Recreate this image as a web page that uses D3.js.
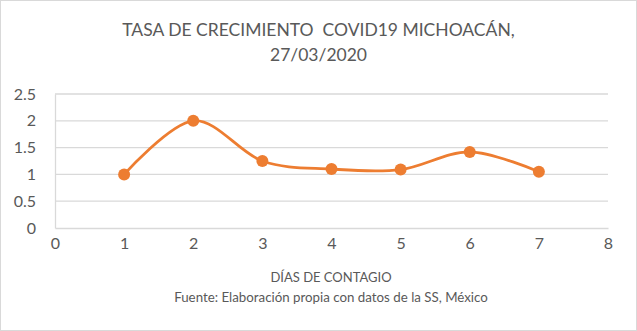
<!DOCTYPE html>
<html>
<head>
<meta charset="utf-8">
<script src="https://cdn.jsdelivr.net/npm/d3@7"></script>
<style>
  html, body { margin: 0; padding: 0; background: #fff; }
  svg { display: block; }
  text { font-family: Lato, "Open Sans", "Liberation Sans", sans-serif; fill: #595959; white-space: pre; }
</style>
</head>
<body>
<svg id="chart" width="637" height="331"></svg>
<script>
// Growth rate by day of contagion
const days = [1, 2, 3, 4, 5, 6, 7];
const rates = [1, 2, 1.25, 1.1, 1.09, 1.42, 1.05];
const xTicks = [0, 1, 2, 3, 4, 5, 6, 7, 8];
const yTicks = [0, 0.5, 1, 1.5, 2, 2.5];
const titleLines = ["TASA DE CRECIMIENTO  COVID19 MICHOACÁN,", "27/03/2020"];
const xTitle = "DÍAS DE CONTAGIO";
const sourceNote = "Fuente: Elaboración propia con datos de la SS, México";

const W = 637, H = 331;
const svg = d3.select("#chart");

// chart frame
svg.append("rect")
  .attr("x", 0.5).attr("y", 0.5)
  .attr("width", W - 1).attr("height", H - 1)
  .attr("fill", "#fff").attr("stroke", "#d9d9d9");

const x = d3.scaleLinear().domain([0, 8]).range([55, 608]);
const y = d3.scaleLinear().domain([0, 2.5]).range([228, 94]);

// horizontal gridlines
svg.append("g")
  .selectAll("line")
  .data(yTicks.filter(d => d > 0))
  .join("line")
  .attr("x1", x(0)).attr("x2", x(8))
  .attr("y1", d => y(d)).attr("y2", d => y(d))
  .attr("stroke", "#d9d9d9").attr("stroke-width", 1.3);

// y axis
const yAxis = svg.append("g")
  .attr("transform", `translate(${x(0)},0)`)
  .call(d3.axisLeft(y).tickValues(yTicks).tickFormat(d3.format("")).tickSize(0).tickPadding(19));
yAxis.select(".domain").attr("stroke", "#d9d9d9").attr("stroke-width", 1.3);
yAxis.selectAll("text").attr("font-size", 16).attr("fill", "#595959");

// x axis
const xAxis = svg.append("g")
  .attr("transform", `translate(0,${y(0)})`)
  .call(d3.axisBottom(x).tickValues(xTicks).tickFormat(d3.format("d")).tickSize(0).tickPadding(10));
xAxis.select(".domain").attr("stroke", "#d9d9d9").attr("stroke-width", 1.3);
xAxis.selectAll("text").attr("font-size", 16).attr("fill", "#595959");

// smoothed series line
const pts = days.map((d, i) => [d, rates[i]]);
const line = d3.line()
  .x(d => x(d[0]))
  .y(d => y(d[1]))
  .curve(d3.curveCardinal.tension(0));

svg.append("path")
  .datum(pts)
  .attr("d", line)
  .attr("fill", "none")
  .attr("stroke", "#ED7D31")
  .attr("stroke-width", 2.8)
  .attr("stroke-linejoin", "round");

svg.append("g")
  .selectAll("circle")
  .data(pts)
  .join("circle")
  .attr("cx", d => x(d[0]))
  .attr("cy", d => y(d[1]))
  .attr("r", 6)
  .attr("fill", "#ED7D31");

// title
svg.append("g")
  .selectAll("text")
  .data(titleLines)
  .join("text")
  .attr("x", W / 2)
  .attr("y", (d, i) => 36 + i * 25)
  .attr("text-anchor", "middle")
  .attr("font-size", 17.5)
  .text(d => d);

// axis title and source
svg.append("text")
  .attr("x", 331).attr("y", 282)
  .attr("text-anchor", "middle")
  .attr("font-size", 13)
  .text(xTitle);

svg.append("text")
  .attr("x", 331).attr("y", 302)
  .attr("text-anchor", "middle")
  .attr("font-size", 13.3)
  .text(sourceNote);
</script>
</body>
</html>
